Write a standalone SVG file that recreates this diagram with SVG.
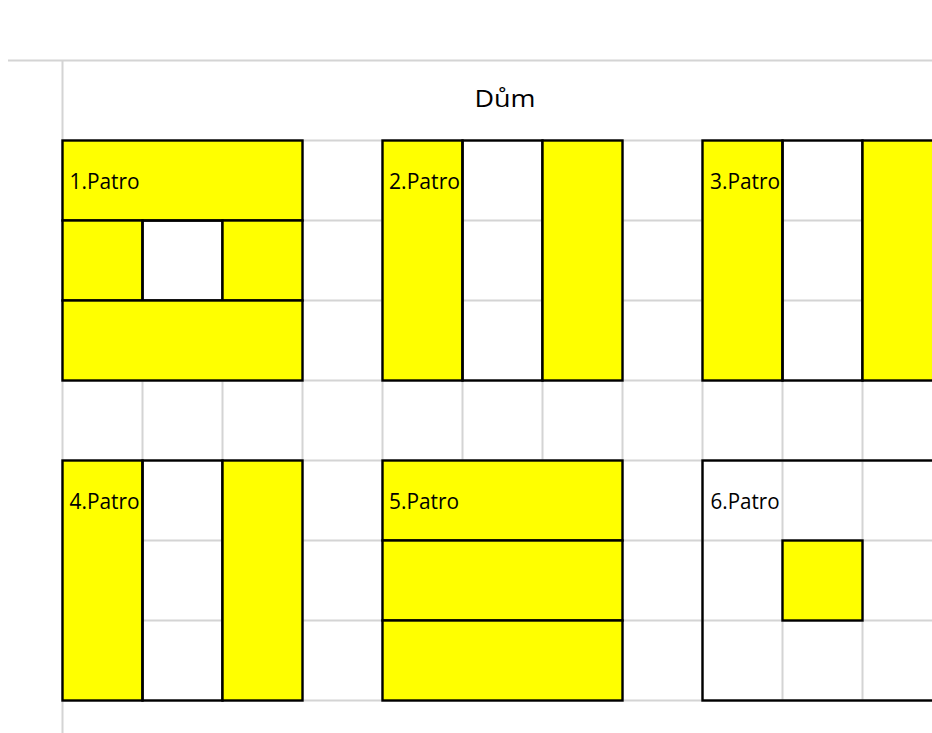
<svg xmlns="http://www.w3.org/2000/svg" width="932" height="733" viewBox="0 0 932 733">
<style>
.g{stroke:#d4d4d4;stroke-width:2;fill:none}
.c{stroke:#000;stroke-width:2.4}
.y{fill:#ffff00}
.t{font-family:"Open Sans","Liberation Sans",sans-serif;font-size:22px;fill:#000}
.h{font-family:"Open Sans","Liberation Sans",sans-serif;font-size:24px;fill:#000}
</style>
<rect width="932" height="733" fill="#ffffff"/>
<g id="grid">
<line class="g" x1="8" y1="60.5" x2="932" y2="60.5"/>
<line class="g" x1="62.5" y1="60" x2="62.5" y2="733"/>
<line class="g" x1="62" y1="140.5" x2="932" y2="140.5"/>
<line class="g" x1="62" y1="220.5" x2="932" y2="220.5"/>
<line class="g" x1="62" y1="300.5" x2="932" y2="300.5"/>
<line class="g" x1="62" y1="380.5" x2="932" y2="380.5"/>
<line class="g" x1="62" y1="460.5" x2="932" y2="460.5"/>
<line class="g" x1="62" y1="540.5" x2="932" y2="540.5"/>
<line class="g" x1="62" y1="620.5" x2="932" y2="620.5"/>
<line class="g" x1="62" y1="700.5" x2="932" y2="700.5"/>
<line class="g" x1="142.5" y1="140" x2="142.5" y2="700"/>
<line class="g" x1="222.5" y1="140" x2="222.5" y2="700"/>
<line class="g" x1="302.5" y1="140" x2="302.5" y2="700"/>
<line class="g" x1="382.5" y1="140" x2="382.5" y2="700"/>
<line class="g" x1="462.5" y1="140" x2="462.5" y2="700"/>
<line class="g" x1="542.5" y1="140" x2="542.5" y2="700"/>
<line class="g" x1="622.5" y1="140" x2="622.5" y2="700"/>
<line class="g" x1="702.5" y1="140" x2="702.5" y2="700"/>
<line class="g" x1="782.5" y1="140" x2="782.5" y2="700"/>
<line class="g" x1="862.5" y1="140" x2="862.5" y2="700"/>
</g>
<g id="title">
<text class="h" x="505" y="107" text-anchor="middle" textLength="61" lengthAdjust="spacingAndGlyphs">Dům</text>
</g>
<g id="patro1">
<rect class="y c" x="62.5" y="140.5" width="240" height="80"/>
<rect class="y c" x="62.5" y="220.5" width="80" height="80"/>
<rect class="c" x="142.5" y="220.5" width="80" height="80" fill="none"/>
<rect class="y c" x="222.5" y="220.5" width="80" height="80"/>
<rect class="y c" x="62.5" y="300.5" width="240" height="80"/>
<text class="t" x="69.5" y="188.5" textLength="70" lengthAdjust="spacingAndGlyphs">1.Patro</text>
</g>
<g id="patro2">
<rect class="y c" x="382.5" y="140.5" width="80" height="240"/>
<rect class="c" x="462.5" y="140.5" width="80" height="240" fill="none"/>
<rect class="y c" x="542.5" y="140.5" width="80" height="240"/>
<text class="t" x="389" y="188.5" textLength="71" lengthAdjust="spacingAndGlyphs">2.Patro</text>
</g>
<g id="patro3">
<rect class="y c" x="702.5" y="140.5" width="80" height="240"/>
<rect class="c" x="782.5" y="140.5" width="80" height="240" fill="none"/>
<rect class="y c" x="862.5" y="140.5" width="100" height="240"/>
<text class="t" x="710" y="188.5" textLength="70" lengthAdjust="spacingAndGlyphs">3.Patro</text>
</g>
<g id="patro4">
<rect class="y c" x="62.5" y="460.5" width="80" height="240"/>
<rect class="c" x="142.5" y="460.5" width="80" height="240" fill="none"/>
<rect class="y c" x="222.5" y="460.5" width="80" height="240"/>
<text class="t" x="69.5" y="508.5" textLength="70" lengthAdjust="spacingAndGlyphs">4.Patro</text>
</g>
<g id="patro5">
<rect class="y c" x="382.5" y="460.5" width="240" height="80"/>
<rect class="y c" x="382.5" y="540.5" width="240" height="80"/>
<rect class="y c" x="382.5" y="620.5" width="240" height="80"/>
<text class="t" x="389" y="508.5" textLength="70" lengthAdjust="spacingAndGlyphs">5.Patro</text>
</g>
<g id="patro6">
<rect class="c" x="702.5" y="460.5" width="260" height="240" fill="none"/>
<rect class="y c" x="782.5" y="540.5" width="80" height="80"/>
<text class="t" x="710.5" y="508.5" textLength="69" lengthAdjust="spacingAndGlyphs">6.Patro</text>
</g>
</svg>
